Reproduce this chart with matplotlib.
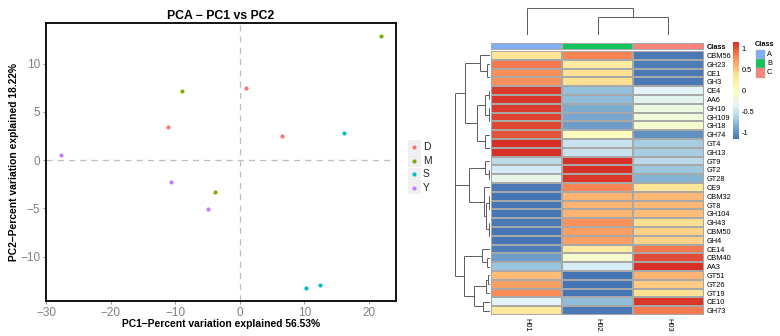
import numpy as np
import matplotlib
matplotlib.use('Agg')
import matplotlib.pyplot as plt
from matplotlib.colors import LinearSegmentedColormap, ListedColormap
from matplotlib.patches import Rectangle

plt.rcParams['font.family'] = ['Liberation Sans', 'DejaVu Sans']

# ---- PCA scores ----
groups = ['D', 'M', 'S', 'Y']
group_colors = ['#F8766D', '#7CAE00', '#00BFC4', '#C77CFF']
sample_group = ['D', 'D', 'D', 'M', 'M', 'M', 'S', 'S', 'S', 'Y', 'Y', 'Y']
pc1 = [-11.1, 1.0, 6.5, -9.0, -3.9, 21.8, 16.2, 10.3, 12.4, -27.7, -10.6, -4.9]
pc2 = [3.4, 7.5, 2.5, 7.2, -3.3, 12.9, 2.8, -13.3, -12.9, 0.5, -2.3, -5.1]

# ---- heatmap (row z-scores) ----
samples = ['H01', 'H02', 'H03']
sample_class = ['A', 'B', 'C']
class_colors = ['#7FAEF2', '#12C45A', '#F8857D']
genes = ['CBM56', 'GH23', 'CE1', 'GH3', 'CE4', 'AA6', 'GH10', 'GH109', 'GH18',
         'GH74', 'GT4', 'GH13', 'GT9', 'GT2', 'GT28', 'CE9', 'CBM32', 'GT8',
         'GH104', 'GH43', 'CBM50', 'GH4', 'CE14', 'CBM40', 'AA3', 'GT51',
         'GT26', 'GT19', 'CE10', 'GH73']
z = np.array([
    [0.32, 0.80, -1.12], [0.85, 0.25, -1.10], [0.75, 0.37, -1.12], [0.75, 0.37, -1.12],
    [1.10, -0.75, -0.35], [1.12, -0.78, -0.34], [1.10, -0.88, -0.22], [1.08, -0.90, -0.18],
    [1.05, -0.95, -0.10], [1.00, 0.00, -1.00], [1.15, -0.50, -0.65], [1.15, -0.50, -0.65],
    [-0.58, 1.15, -0.57], [-0.45, 1.15, -0.70], [-0.30, 1.12, -0.82], [-1.12, 0.80, 0.32],
    [-1.15, 0.58, 0.57], [-1.15, 0.58, 0.57], [-1.15, 0.60, 0.55], [-1.13, 0.75, 0.38],
    [-1.14, 0.69, 0.45], [-1.14, 0.69, 0.45], [-1.10, 0.25, 0.85], [-0.93, -0.10, 1.03],
    [-0.72, -0.42, 1.14], [0.55, -1.15, 0.60], [0.68, -1.15, 0.47], [0.77, -1.14, 0.37],
    [-0.35, -0.78, 1.13], [0.28, -1.12, 0.84],
])

# clustering trees: (height, left, right), leaves are row/column indices
row_tree = (2.83,
            (2.05,
             (0.81, 0, (0.24, 1, (0.02, 2, 3))),
             (1.05,
              (0.40, (0.06, 4, 5), (0.12, 6, (0.04, 7, 8))),
              (0.40, 9, (0.02, 10, 11)))),
            (2.80,
             (1.67,
              (0.38, 12, (0.12, 13, 14)),
              (0.51, 15, (0.30, (0.05, 16, (0.03, 17, 18)), (0.12, 19, (0.02, 20, 21))))),
             (2.13,
              (0.65, 22, (0.24, 23, 24)),
              (1.32, (0.30, (0.15, 25, 26), 27), (0.57, 28, 29)))))
col_tree = (1.0, 0, (0.66, 1, 2))


def draw_tree(ax, node, horizontal):
    # returns (leaf-axis position, height) of the node
    if isinstance(node, int):
        return node + 0.5, 0.0
    h, left, right = node
    p1, h1 = draw_tree(ax, left, horizontal)
    p2, h2 = draw_tree(ax, right, horizontal)
    kw = dict(color='#5A5A5A', lw=0.7, solid_capstyle='butt')
    if horizontal:
        ax.plot([h, h], [p1, p2], **kw)
        ax.plot([h1, h], [p1, p1], **kw)
        ax.plot([h2, h], [p2, p2], **kw)
    else:
        ax.plot([p1, p2], [h, h], **kw)
        ax.plot([p1, p1], [h1, h], **kw)
        ax.plot([p2, p2], [h2, h], **kw)
    return (p1 + p2) / 2, h


W, H = 780, 336
fig = plt.figure(figsize=(W / 100, H / 100), dpi=100)


def box(x0, y0, x1, y1):
    return [x0 / W, 1 - y1 / H, (x1 - x0) / W, (y1 - y0) / H]


# ---- PCA panel ----
ax = fig.add_axes(box(46, 23, 396, 301))
ax.axhline(0, color='#BEBEBE', lw=0.9, ls=(0, (5, 4)), zorder=1)
ax.axvline(0, color='#BEBEBE', lw=0.9, ls=(0, (5, 4)), zorder=1)
for g, c in zip(groups, group_colors):
    xs = [x for x, s in zip(pc1, sample_group) if s == g]
    ys = [y for y, s in zip(pc2, sample_group) if s == g]
    ax.scatter(xs, ys, s=9, color=c, lw=0, zorder=3)
ax.set_xlim(-30, 24.2)
ax.set_ylim(-14.6, 14.2)
ax.set_xticks([-30, -20, -10, 0, 10, 20])
ax.set_yticks([-10, -5, 0, 5, 10])
ax.set_xticklabels(['\u221230', '\u221220', '\u221210', '0', '10', '20'])
ax.set_yticklabels(['\u221210', '\u22125', '0', '5', '10'])
ax.tick_params(labelsize=8.5, labelcolor='#808080', color='#808080', length=2.5, width=0.6, pad=1.5)
for sp in ax.spines.values():
    sp.set_linewidth(1.3)
    sp.set_color('black')
ax.set_title('PCA \u2212 PC1 vs PC2', fontsize=8.8, fontweight='bold', pad=3)
ax.set_xlabel('PC1\u2212Percent variation explained 56.53%', fontsize=7.4, fontweight='bold', labelpad=0.5)
ax.set_ylabel('PC2\u2212Percent variation explained 18.22%', fontsize=7.4, fontweight='bold', labelpad=1)

# legend with grey key boxes
lax = fig.add_axes(box(407, 140, 445, 195))
lax.set_xlim(407, 445)
lax.set_ylim(195, 140)
lax.axis('off')
for i, (g, c) in enumerate(zip(groups, group_colors)):
    yc = 147 + i * 13.6
    lax.add_patch(Rectangle((407.5, yc - 6.6), 13.5, 13.2, color='#F0F0F0', lw=0))
    lax.scatter([414.2], [yc], s=9, color=c, lw=0)
    lax.text(423, yc, g, fontsize=7.4, va='center', ha='left', color='#222222')

# ---- heatmap panel ----
cmap = LinearSegmentedColormap.from_list(
    'rdylbu', ['#4575B4', '#91BFDB', '#E0F3F8', '#FFFFBF', '#FEE090', '#FC8D59', '#D73027'], N=100)
vmin, vmax = -1.16, 1.16

hax = fig.add_axes(box(491, 51, 704, 315))
mesh = hax.pcolormesh(z, cmap=cmap, vmin=vmin, vmax=vmax, edgecolors='#A8A8A8', linewidth=0.3)
hax.set_xlim(0, 3)
hax.set_ylim(len(genes), 0)
hax.yaxis.tick_right()
hax.set_yticks(np.arange(len(genes)) + 0.5)
hax.set_yticklabels(genes, fontsize=5.3)
hax.set_xticks(np.arange(3) + 0.5)
hax.set_xticklabels(samples, fontsize=5.3, rotation=270, va='top')
hax.tick_params(length=0, pad=2)
for sp in hax.spines.values():
    sp.set_visible(False)

# class annotation bar
aax = fig.add_axes(box(491, 43.3, 704, 50))
aax.pcolormesh([[0, 1, 2]], cmap=ListedColormap(class_colors), vmin=-0.5, vmax=2.5,
               edgecolors='#A8A8A8', linewidth=0.3)
aax.set_xlim(0, 3)
aax.set_xticks([])
aax.yaxis.tick_right()
aax.set_yticks([0.5])
aax.set_yticklabels(['Class'], fontsize=5.3, fontweight='bold')
aax.tick_params(length=0, pad=2)
for sp in aax.spines.values():
    sp.set_visible(False)

# dendrograms
cdax = fig.add_axes(box(491, 8.3, 704, 35))
draw_tree(cdax, col_tree, horizontal=False)
cdax.set_xlim(0, 3)
cdax.set_ylim(0, col_tree[0])
cdax.axis('off')

rdax = fig.add_axes(box(455, 51, 490, 315))
draw_tree(rdax, row_tree, horizontal=True)
rdax.set_xlim(row_tree[0], 0)
rdax.set_ylim(len(genes), 0)
rdax.axis('off')

# colour key
cax = fig.add_axes(box(733, 41.7, 739, 139))
cb = fig.colorbar(mesh, cax=cax, ticks=[-1, -0.5, 0, 0.5, 1])
cb.ax.set_yticklabels(['-1', '-0.5', '0', '0.5', '1'])
cb.ax.tick_params(length=0, labelsize=5.3, pad=2)
cb.outline.set_visible(False)

# class legend
kax = fig.add_axes(box(752, 38, 780, 80))
kax.set_xlim(752, 780)
kax.set_ylim(80, 38)
kax.axis('off')
kax.text(755, 45, 'Class', fontsize=5.3, fontweight='bold', va='center', ha='left')
for i, (cl, c) in enumerate(zip(sample_class, class_colors)):
    y0 = 50 + i * 9.2
    kax.add_patch(Rectangle((756, y0), 9, 9.2, facecolor=c, edgecolor='#A8A8A8', lw=0.3))
    kax.text(767, y0 + 4.6, cl, fontsize=5.3, va='center', ha='left')

fig.savefig('out.png', dpi=100)
